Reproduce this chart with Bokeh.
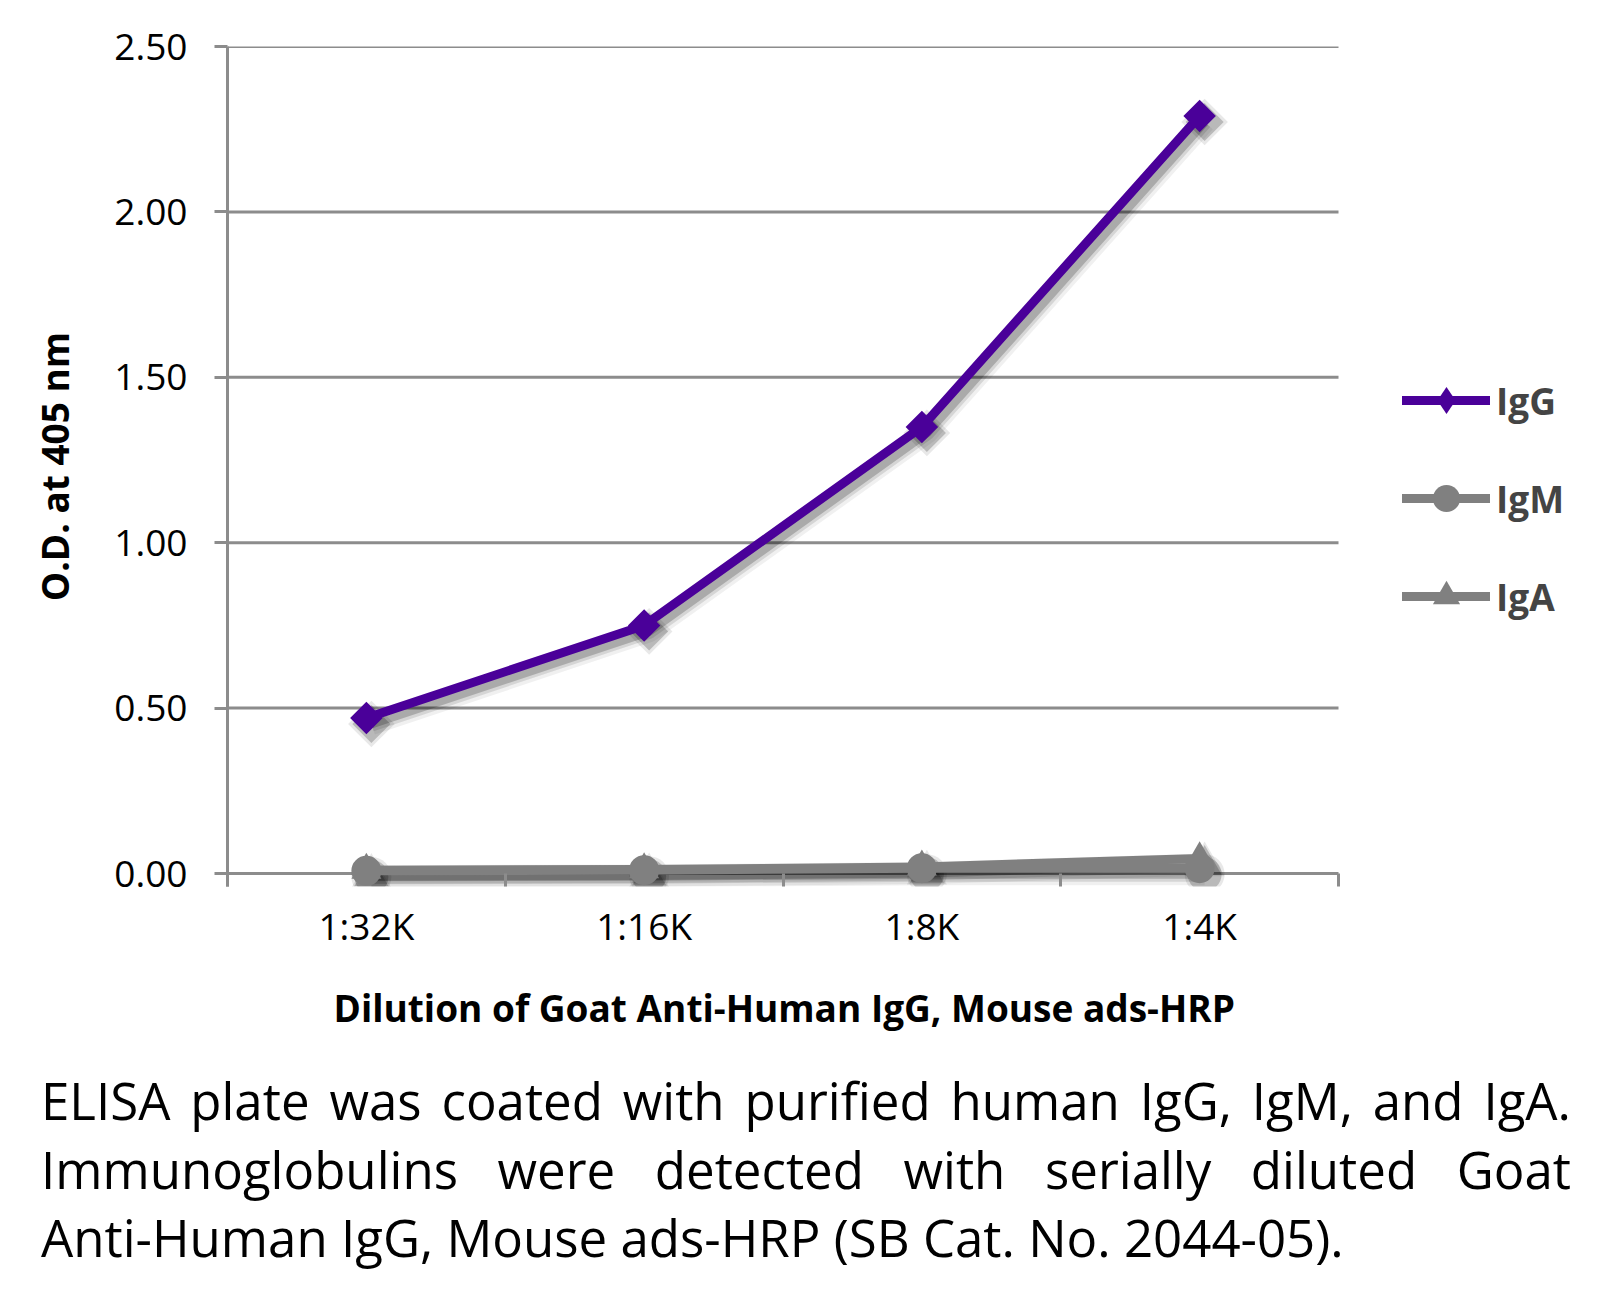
import math
from bokeh.plotting import figure
from bokeh.models import FixedTicker, Legend, LegendItem, Div, NumeralTickFormatter, Title
from bokeh.layouts import column
from bokeh.embed import file_html
from bokeh.resources import INLINE

# ---- data ----
dilutions = ["1:32K", "1:16K", "1:8K", "1:4K"]
igg = [0.47, 0.75, 1.35, 2.29]
igm = [0.008, 0.010, 0.016, 0.016]
iga = [0.010, 0.012, 0.020, 0.045]
series_names = ["IgG", "IgM", "IgA"]
y_ticks = [0.0, 0.5, 1.0, 1.5, 2.0, 2.5]
x_title = "Dilution of Goat Anti-Human IgG, Mouse ads-HRP"
y_title = "O.D. at 405 nm"
caption_lines = [
    "ELISA plate was coated with purified human IgG, IgM, and IgA.",
    "Immunoglobulins were detected with serially diluted Goat",
    "Anti-Human IgG, Mouse ads-HRP (SB Cat. No. 2044-05).",
]

# ---- style ----
PURPLE = "#4a0099"
GRAY = "#808080"
GRID = "#8c8c8c"
FONT = "Open Sans"

W, H = 1597, 1060
FL, FR, FT, Y0 = 227, 1338, 46, 873      # plot-area left/right/top, pixel row of y = 0
EXT = 13                                  # frame extends a little below zero
ncat = len(dilutions)
ymax = y_ticks[-1]
ppu = (Y0 - FT) / ymax                    # pixels per y unit
ppx = (FR - FL) / ncat                    # pixels per category
ymin = -EXT / ppu
FB = Y0 + EXT
xmax = (W - FL) / ppx                     # frame runs to the right edge (legend lives there)

x = [i + 0.5 for i in range(ncat)]

p = figure(width=W, height=H, x_range=(0, xmax), y_range=(ymin, ymax),
           output_backend="svg", toolbar_location=None,
           min_border_left=FL, min_border_right=0,
           min_border_top=FT, min_border_bottom=H - FB)
p.outline_line_color = None
p.background_fill_color = "white"
p.border_fill_color = "white"
p.xgrid.visible = False
p.ygrid.visible = False

# horizontal gridlines spanning the category area only
p.segment(x0=[0] * len(y_ticks), x1=[ncat] * len(y_ticks), y0=y_ticks, y1=y_ticks,
          line_color=GRID, line_width=3)

# soft drop shadows (pixel offsets converted to data units)
dx = 5 / ppx
dy = 6 / ppu

series = [
    ("IgA", iga, GRAY, "triangle", 0, 30),
    ("IgM", igm, GRAY, "circle", 0, 30),
    ("IgG", igg, PURPLE, "square", math.pi / 4, 23),
]
renders = {}
for name, ys, col, mk, ang, sz in series:
    xs_s = [v + dx for v in x]
    ys_s = [v - dy for v in ys]
    for w, a in ((22, 0.06), (15, 0.11), (9, 0.2)):
        p.line(xs_s, ys_s, line_color="black", line_alpha=a, line_width=w, line_join="round")
    for extra, a in ((10, 0.09), (4, 0.2)):
        p.scatter(xs_s, ys_s, marker=mk, angle=ang, size=sz + extra,
                  fill_color="black", fill_alpha=a, line_color=None)

for name, ys, col, mk, ang, sz in series:
    lr = p.line(x, ys, line_color=col, line_width=9, line_join="round", line_cap="round")
    sr = p.scatter(x, ys, marker=mk, angle=ang, size=sz, fill_color=col, line_color=None)
    if mk == "square":
        leg_sr = p.scatter(x, ys, marker="diamond", size=0, fill_color=col, line_color=None)
    else:
        leg_sr = sr
    renders[name] = [lr, leg_sr]

# y axis
p.yaxis.ticker = FixedTicker(ticks=y_ticks)
p.yaxis.formatter = NumeralTickFormatter(format="0.00")
p.yaxis.axis_line_color = GRID
p.yaxis.axis_line_width = 3
p.yaxis.major_tick_line_color = GRID
p.yaxis.major_tick_line_width = 3
p.yaxis.major_tick_out = 13
p.yaxis.major_tick_in = 0
p.yaxis.minor_tick_line_color = None
p.yaxis.major_label_standoff = 27
p.yaxis.major_label_text_font = FONT
p.yaxis.major_label_text_font_size = "37px"
p.yaxis.major_label_text_color = "black"
p.yaxis.axis_label = y_title
p.yaxis.axis_label_text_font = FONT
p.yaxis.axis_label_text_font_size = "37px"
p.yaxis.axis_label_text_font_style = "bold"
p.yaxis.axis_label_text_color = "black"
p.yaxis.axis_label_standoff = 31

# x axis (sits at frame bottom, ticks point up to the zero line)
p.xaxis.bounds = (0, ncat)
p.xaxis.ticker = FixedTicker(ticks=x, minor_ticks=list(range(ncat + 1)))
p.xaxis.major_label_overrides = {xi: d for xi, d in zip(x, dilutions)}
p.xaxis.axis_line_color = None
p.xaxis.major_tick_line_color = None
p.xaxis.major_tick_out = 0
p.xaxis.major_tick_in = 0
p.xaxis.minor_tick_line_color = GRID
p.xaxis.minor_tick_line_width = 3
p.xaxis.minor_tick_out = 0
p.xaxis.minor_tick_in = EXT
p.xaxis.major_label_standoff = 13
p.xaxis.major_label_text_font = FONT
p.xaxis.major_label_text_font_size = "37px"
p.xaxis.major_label_text_color = "black"

# x axis title, centred under the category area
TW = 899  # approximate rendered width of the title text
xt = Title(text=x_title, align="left", offset=(FR + FL) / 2 - TW / 2 - FL,
           standoff=53, text_font=FONT, text_font_size="37px", text_font_style="bold",
           text_color="black")
p.add_layout(xt, "below")

# legend
items = [LegendItem(label=n, renderers=renders[n]) for n in series_names]
GH, SP = 68, 30
leg_h = 3 * GH + 2 * SP
leg_top = 400 - GH / 2
legend = Legend(items=items, location=(1402 - FL, FB - (leg_top + leg_h)),
                orientation="vertical", border_line_color=None, background_fill_alpha=0,
                padding=0, margin=0, spacing=SP, glyph_width=88, glyph_height=GH,
                label_height=GH, label_standoff=6, label_text_font=FONT,
                label_text_font_size="37px", label_text_font_style="bold",
                label_text_baseline="middle")
p.add_layout(legend)

# caption
common = f"font-family:'{FONT}';font-size:51px;line-height:68.5px;color:#000;"
just = "text-align:justify;text-align-last:justify;white-space:nowrap;"
html = (f"<div style=\"{common}width:1530px\">"
        f"<div style='{just}'>{caption_lines[0]}</div>"
        f"<div style='text-align:justify;text-align-last:justify'>{caption_lines[1]}</div>"
        f"<div style='white-space:nowrap'>{caption_lines[2]}</div></div>")
div = Div(text=html, width=1560, height=230, margin=(6, 0, 0, 41))

layout = column(p, div)
open("out.html", "w").write(file_html(layout, INLINE))
